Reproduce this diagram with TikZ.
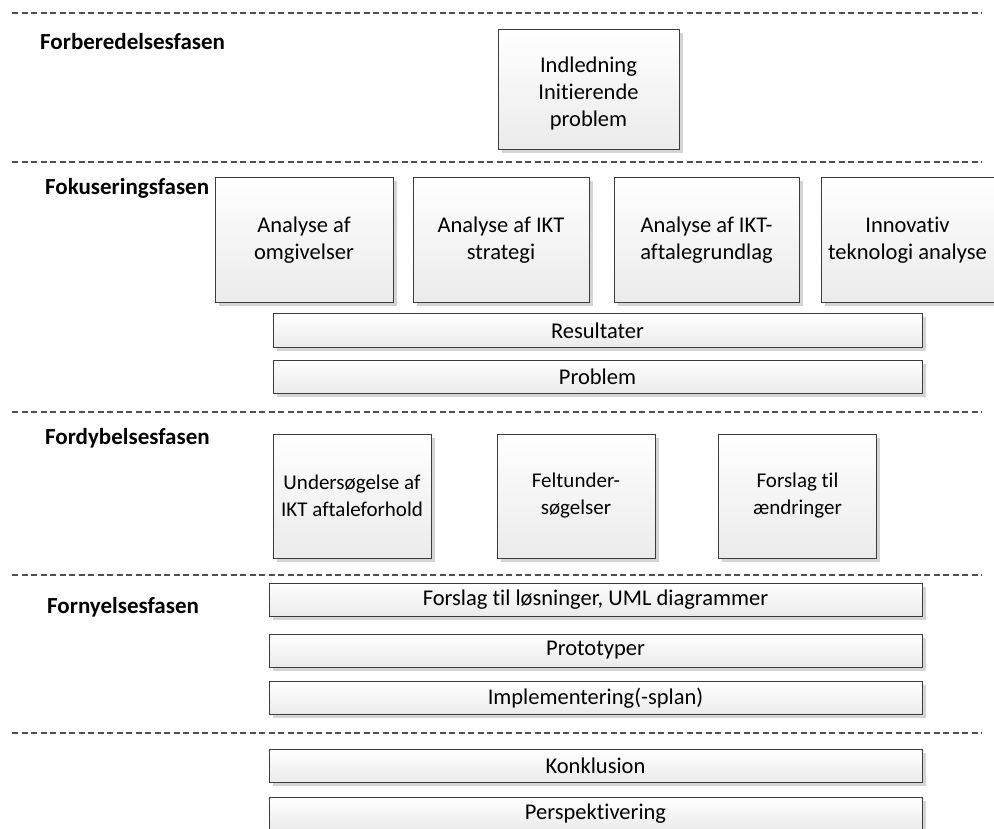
\documentclass[tikz,border=0pt]{standalone}
\usepackage{fontspec}
\setmainfont{Carlito}[Ligatures=NoCommon]
\usetikzlibrary{shadows}
\definecolor{rulegray}{HTML}{505050}
\definecolor{edgegray}{HTML}{3C3C3C}
\definecolor{shadegray}{HTML}{D4D4D4}
\tikzset{
  phaserule/.style={draw=rulegray, line width=1.6pt, dash pattern=on 6pt off 3.5pt},
  phaselabel/.style={anchor=west, inner sep=0pt, font=\fontsize{23}{27}\selectfont\bfseries},
  cardtext/.style={align=center, inner sep=0pt, font=\fontsize{22.5}{27}\selectfont},
  card/.style={draw=edgegray, line width=1pt, top color=white, bottom color=black!8,
    drop shadow={shadow xshift=3.5pt, shadow yshift=-3.5pt, fill=shadegray, opacity=1},
    cardtext},
  bar/.style={card, minimum height=33pt},
  deepcard/.style={card, minimum width=158pt, minimum height=124pt,
    font=\fontsize{21}{27}\selectfont}
}
\begin{document}
\begin{tikzpicture}[x=1pt, y=-1pt]
  \useasboundingbox (0,0) rectangle (994,829);
  \clip (0,0) rectangle (994,829);
  \fill[white] (0,0) rectangle (994,829);

  % phase separators
  \foreach \yy in {13,162,412,575,733}
    \draw[phaserule] (12,\yy) -- (982,\yy);

  % phase titles
  \node[phaselabel] (l1) at (40,42)  {Forberedelsesfasen};
  \node[phaselabel] (l2) at (45,188) {Fokuseringsfasen};
  \node[phaselabel] (l3) at (45,438) {Fordybelsesfasen};
  \node[phaselabel] (l4) at (47,607) {Fornyelsesfasen};

  % preparation
  \node[card, minimum width=181pt, minimum height=120pt] (intro) at (588.5,90) {};
  \node[cardtext] (introtext) at (588.5,94) {Indledning\\Initierende\\problem};

  % focusing
  \node[card, minimum width=178pt, minimum height=125pt] (f1) at (304,240.5)
    {Analyse af\\omgivelser};
  \node[card, minimum width=176pt, minimum height=125pt] (f2) at (501,240.5)
    {Analyse af IKT\\strategi};
  \node[card, minimum width=185pt, minimum height=125pt] (f3) at (706.5,240.5)
    {Analyse af IKT-\\aftalegrundlag};
  \node[card, minimum width=185pt, minimum height=125pt] (f4) at (913.5,240.5) {};
  \node[cardtext] (f4text) at (907.5,240.5) {Innovativ\\teknologi analyse};
  \node[bar, minimum width=649pt] (res) at (597.5,330.5) {Resultater};
  \node[bar, minimum width=649pt] (prob) at (597.5,376.5) {Problem};

  % deepening
  \node[deepcard] (d1) at (352,496)   {Undersøgelse af\\IKT aftaleforhold};
  \node[deepcard] (d2) at (576,496)   {Feltunder-\\søgelser};
  \node[deepcard] (d3) at (797.5,496) {Forslag til\\ændringer};

  % renewal
  \node[bar, minimum width=653pt] (n1) at (595.5,599.5) {Forslag til løsninger, UML diagrammer};
  \node[bar, minimum width=653pt] (n2) at (595.5,650.5) {Prototyper};
  \node[bar, minimum width=653pt] (n3) at (595.5,698)   {Implementering(-splan)};

  % closing
  \node[bar, minimum width=653pt] (k1) at (595.5,766) {Konklusion};
  \node[bar, minimum width=653pt] (k2) at (595.5,814) {Perspektivering};
\end{tikzpicture}
\end{document}
